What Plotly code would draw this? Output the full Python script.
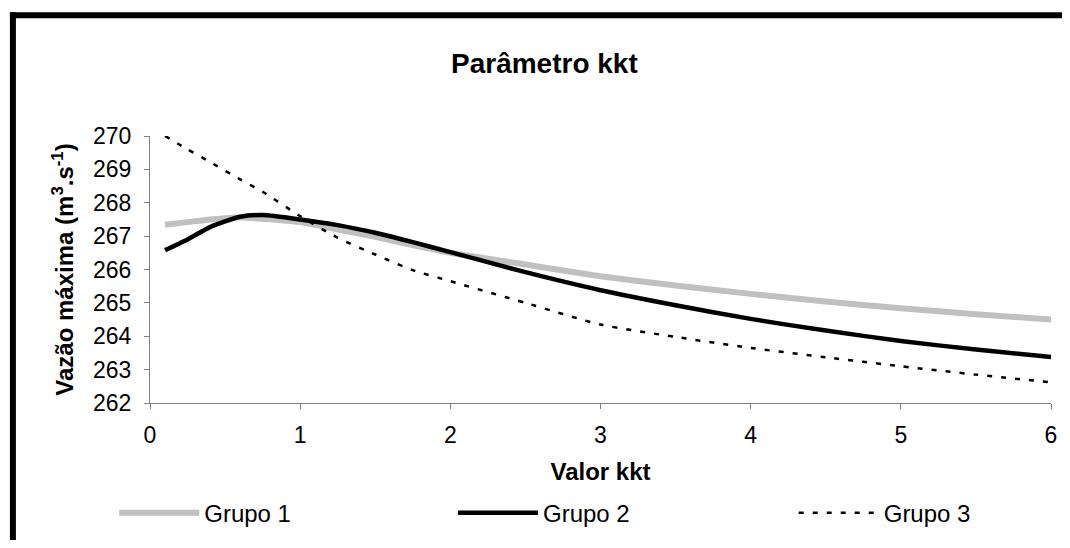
import plotly.graph_objects as go

x_vals = [0.1, 0.25, 0.4, 0.6, 0.75, 1.0, 1.25, 1.5, 1.75, 2.0, 2.5, 3.0, 3.5, 4.0, 4.5, 5.0, 5.5, 6.0]
grupo1 = [267.34, 267.42, 267.50, 267.56, 267.52, 267.42, 267.20, 266.98, 266.73, 266.50, 266.15, 265.80, 265.52, 265.27, 265.04, 264.84, 264.66, 264.50]
grupo2 = [266.58, 266.90, 267.27, 267.58, 267.63, 267.50, 267.33, 267.10, 266.82, 266.52, 265.92, 265.38, 264.93, 264.52, 264.17, 263.86, 263.60, 263.38]
grupo3 = [270.00, 269.60, 269.22, 268.70, 268.33, 267.60, 266.95, 266.45, 265.98, 265.65, 265.00, 264.35, 263.98, 263.65, 263.37, 263.10, 262.85, 262.62]
series_names = ["Grupo 1", "Grupo 2", "Grupo 3"]
x_ticks = [0, 1, 2, 3, 4, 5, 6]
y_ticks = [262, 263, 264, 265, 266, 267, 268, 269, 270]

FONT = "Liberation Sans, Arial, sans-serif"

fig = go.Figure()
fig.add_trace(go.Scatter(x=x_vals, y=grupo1, mode="lines", name=series_names[0],
                         line=dict(color="#C0C0C0", width=6, shape="spline", smoothing=0.6),
                         legend="legend"))
fig.add_trace(go.Scatter(x=x_vals, y=grupo2, mode="lines", name=series_names[1],
                         line=dict(color="#000000", width=4.5, shape="spline", smoothing=0.6),
                         legend="legend2"))
fig.add_trace(go.Scatter(x=x_vals, y=grupo3, mode="lines", name=series_names[2],
                         line=dict(color="#000000", width=2.5, dash="5px,9px", shape="spline", smoothing=0.6),
                         legend="legend3"))

OFF = 8  # page body margin
W, H = 1070 - 2 * OFF, 548 - 2 * OFF
# target page coordinates of the plot area
PX0, PX1, PY0, PY1 = 150, 1057, 136, 410
L, R, T, B = PX0 - OFF, W - (PX1 - OFF), PY0 - OFF, H - (PY1 - OFF)
pw, ph = W - L - R, H - T - B

def px2x(px):
    return (px - OFF - L) / pw

def py2y(py):
    return ((PY1 - OFF) - (py - OFF)) / ph

leg_common = dict(orientation="h", yanchor="middle", xanchor="left",
                  y=py2y(523), itemwidth=80, bgcolor="rgba(0,0,0,0)",
                  font=dict(family=FONT, size=24, color="black"))

fig.update_layout(
    width=W, height=H,
    margin=dict(l=L, r=R, t=T, b=B),
    paper_bgcolor="white", plot_bgcolor="white",
    font=dict(family=FONT, size=23, color="black"),
    showlegend=True,
    title=dict(text="<b>Parâmetro kkt</b>", x=px2x(547), xref="paper", xanchor="center",
               y=1 - (63 - OFF) / H, yref="container", yanchor="middle",
               font=dict(family=FONT, size=28, color="black")),
    xaxis=dict(range=[0, 6], tickvals=x_ticks, ticks="outside", ticklen=5, tickcolor="#808080",
               showline=True, linecolor="#808080", linewidth=1, showgrid=False, zeroline=False,
               ticklabelstandoff=6, ticklabeloverflow="allow",
               tickfont=dict(family=FONT, size=23, color="black"),
               title=dict(text="<b>Valor kkt</b>", standoff=16,
                          font=dict(family=FONT, size=24, color="black"))),
    yaxis=dict(range=[262, 270], tickvals=y_ticks, ticks="outside", ticklen=5, tickcolor="#808080",
               showline=True, linecolor="#808080", linewidth=1, showgrid=False, zeroline=False,
               ticklabelstandoff=8, ticklabeloverflow="allow",
               tickfont=dict(family=FONT, size=23, color="black"),
               title=dict(text="<b>Vazão máxima (m<sup>3</sup>.s<sup>-1</sup>)</b>", standoff=12,
                          font=dict(family=FONT, size=24, color="black"))),
    legend=dict(x=px2x(114), **leg_common),
    legend2=dict(x=px2x(455), **leg_common),
    legend3=dict(x=px2x(798), **leg_common),
    shapes=[
        dict(type="line", xref="paper", yref="paper", x0=px2x(9), x1=px2x(1080),
             y0=py2y(12), y1=py2y(12), line=dict(color="black", width=6)),
        dict(type="line", xref="paper", yref="paper", x0=px2x(12), x1=px2x(12),
             y0=py2y(9), y1=py2y(560), line=dict(color="black", width=6)),
    ],
)

fig.write_html("out.html")
